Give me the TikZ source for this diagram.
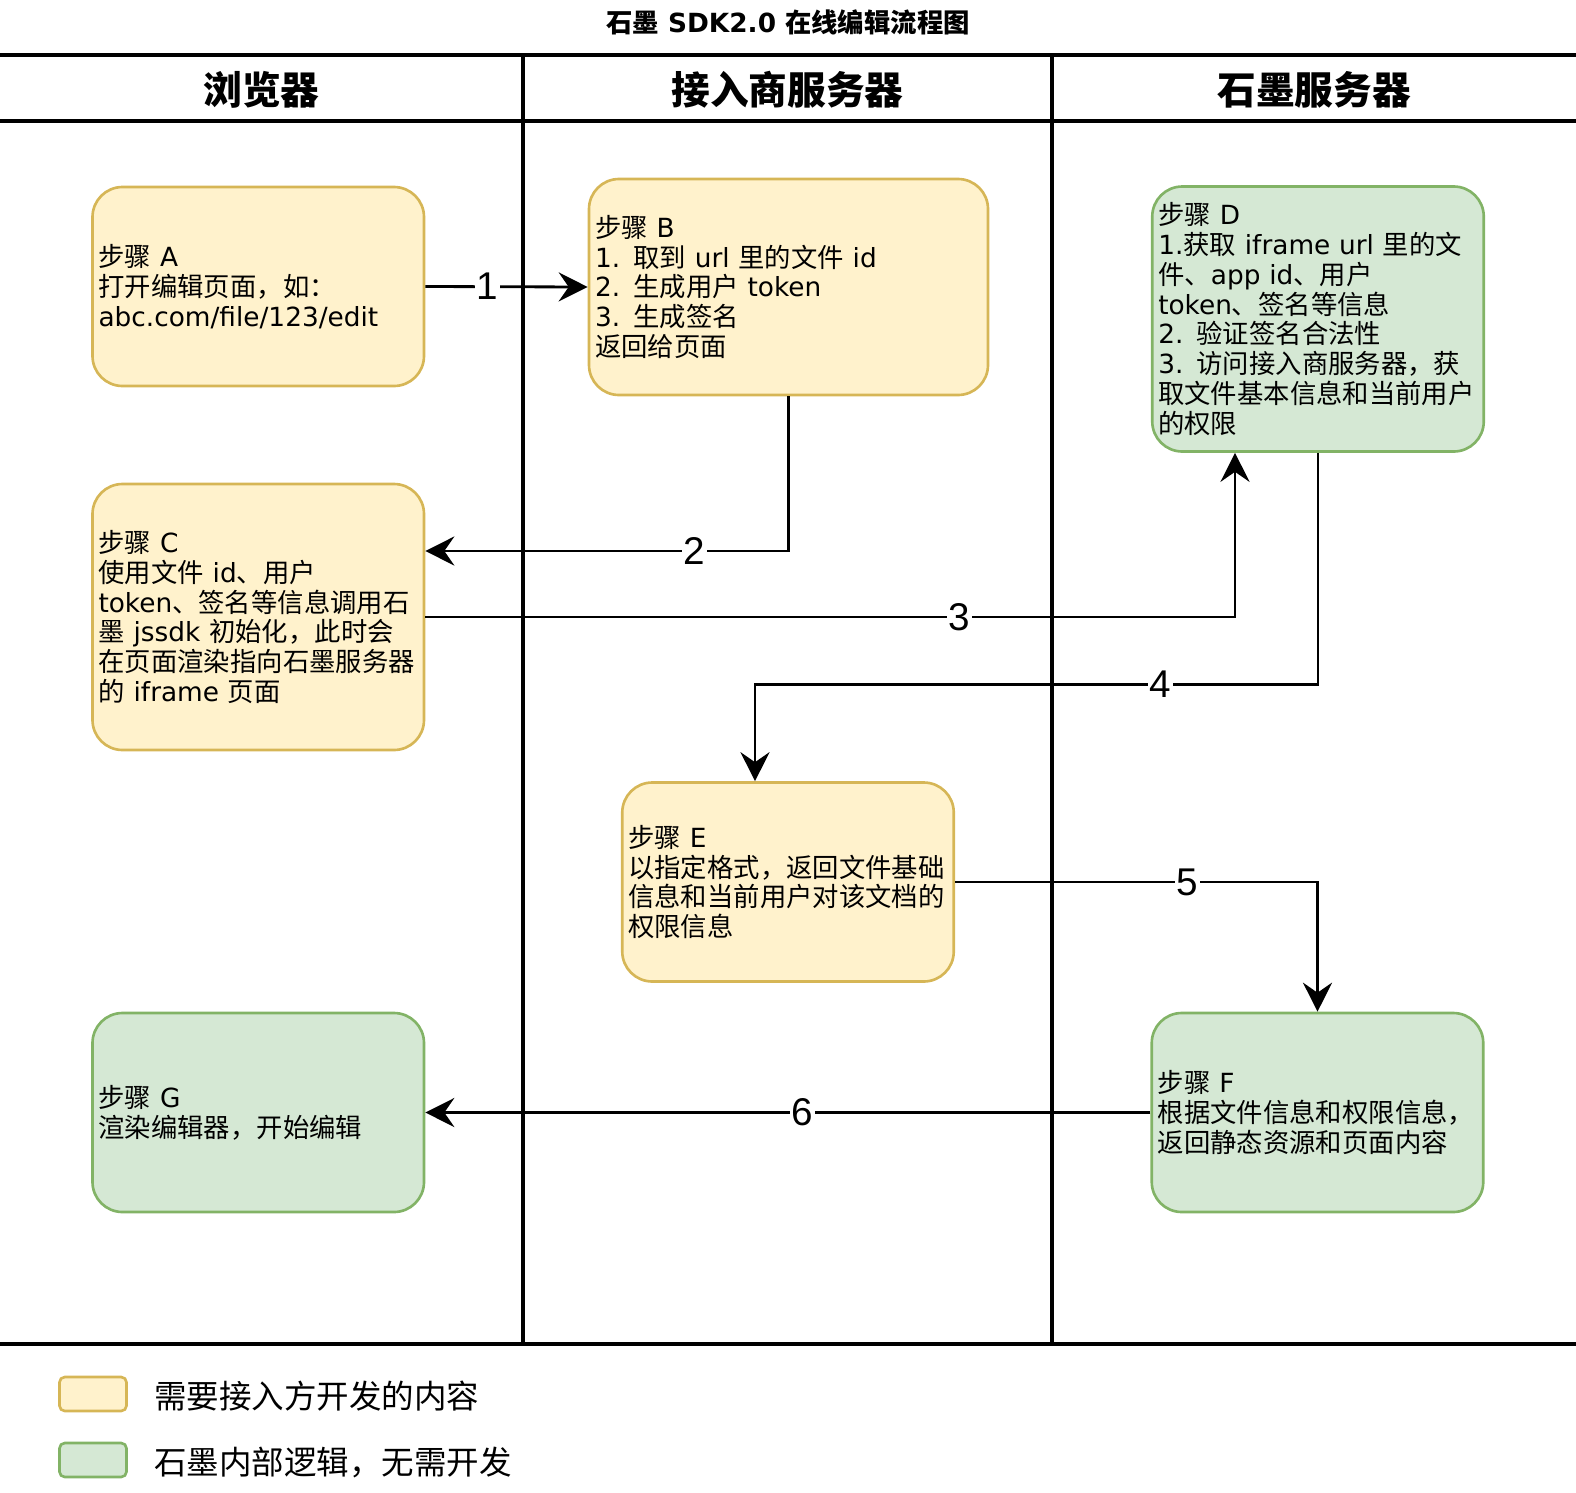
\documentclass[tikz,border=0pt]{standalone}
\usepackage{fontspec}
\setmainfont{DejaVu Sans}
\newfontfamily\cjkfont{Noto Sans CJK SC}
\newfontfamily\helvfont{Liberation Sans}
\usetikzlibrary{arrows.meta}
\usepackage{xcolor}

% switch to the CJK font for Chinese characters
\XeTeXinterchartokenstate=1
\newXeTeXintercharclass\cjkclass
\newcount\cjkcode
\def\setcjkrange#1#2{%
  \cjkcode=#1\relax
  \loop\XeTeXcharclass\cjkcode=\cjkclass
  \ifnum\cjkcode<#2\relax\advance\cjkcode by 1 \repeat}
\setcjkrange{"3000}{"303F}
\setcjkrange{"4E00}{"9FFF}
\setcjkrange{"FF00}{"FFEF}
\def\latinfam{\rmfamily}
\XeTeXinterchartoks 0 \cjkclass={\cjkfont}
\XeTeXinterchartoks 4095 \cjkclass={\cjkfont}
\XeTeXinterchartoks \cjkclass 0={\latinfam}
\XeTeXinterchartoks \cjkclass 4095={\latinfam}

\definecolor{devfill}{HTML}{FFF2CC}
\definecolor{devline}{HTML}{D6B656}
\definecolor{smfill}{HTML}{D5E8D4}
\definecolor{smline}{HTML}{82B366}

\begin{document}
\begin{tikzpicture}[
  % Node Styles
  stepbox/.style={rectangle, rounded corners=0.6cm, line width=1.5pt, align=left, inner xsep=0.12cm, minimum width=6.63cm, text width=6.39cm, minimum height=3.98cm, font=\fontsize{15pt}{17pt}\selectfont},
  devbox/.style={stepbox, draw=devline, fill=devfill},
  smbox/.style={stepbox, draw=smline, fill=smfill},
  lanehead/.style={font=\fontsize{22pt}{26pt}\selectfont\bfseries},
  legendbox/.style={rectangle, rounded corners=3pt, line width=1.5pt, minimum width=1.34cm, minimum height=0.68cm},
  legendtext/.style={anchor=west, inner sep=0pt, font=\fontsize{18.5pt}{22pt}\selectfont},
  laneline/.style={line width=1.9pt},
  % Arrow Styles
  flow/.style={-{Stealth[length=0.58cm, width=0.58cm, inset=0.2cm]}, line width=1.6pt},
  numlabel/.style={fill=white, inner sep=1pt, font=\fontsize{22pt}{24pt}\selectfont\helvfont}
]
\useasboundingbox (0,0) rectangle (31.52,-29.84);

% Title and lanes
\node[font=\fontsize{15pt}{18pt}\selectfont\bfseries] (title) at (15.76,-0.44) {石墨 SDK2.0 在线编辑流程图};

\draw[line width=2.2pt] (0,-1.10) -- (31.52,-1.10);
\draw[laneline] (0,-2.42) -- (31.52,-2.42);
\draw[laneline] (0,-26.88) -- (31.52,-26.88);
\draw[laneline] (10.46,-1.10) -- (10.46,-26.88);
\draw[laneline] (21.04,-1.10) -- (21.04,-26.88);

\node[lanehead] (lane1) at (5.23,-1.79) {浏览器};
\node[lanehead] (lane2) at (15.75,-1.79) {接入商服务器};
\node[lanehead] (lane3) at (26.28,-1.79) {石墨服务器};

% Steps
\node[devbox] (A) at (5.165,-5.73) {步骤 A\\打开编辑页面，如：\\abc.com/file/123/edit};
\node[devbox, minimum width=7.98cm, text width=7.74cm, minimum height=4.32cm] (B) at (15.77,-5.74) {步骤 B\\1. 取到 url 里的文件 id\\2. 生成用户 token\\3. 生成签名\\返回给页面};
\node[devbox, minimum height=5.32cm] (C) at (5.165,-12.34) {步骤 C\\使用文件 id、用户\\token、签名等信息调用石\\墨 jssdk 初始化，此时会\\在页面渲染指向石墨服务器\\的 iframe 页面};
\node[smbox, minimum height=5.3cm] (D) at (26.36,-6.38) {步骤 D\\1.获取 iframe url 里的文\\件、app id、用户\\token、签名等信息\\2. 验证签名合法性\\3. 访问接入商服务器，获\\取文件基本信息和当前用户\\的权限};
\node[devbox] (E) at (15.76,-17.64) {步骤 E\\以指定格式，返回文件基础\\信息和当前用户对该文档的\\权限信息};
\node[smbox] (F) at (26.35,-22.25) {步骤 F\\根据文件信息和权限信息，\\返回静态资源和页面内容};
\node[smbox] (G) at (5.165,-22.25) {步骤 G\\渲染编辑器，开始编辑};

% Flow
\draw[flow] (A.east) -- node[numlabel, pos=0.38] (n1) {1} (B.west);
\draw[flow] (B.south) |- node[numlabel, pos=0.63] (n2) {2} ([yshift=1.32cm]C.east);
\draw[flow] (C.east) -| node[numlabel, pos=0.33] (n3) {3} ([xshift=-1.66cm]D.south);
\draw[flow] (D.south) -- ++(0,-4.63) -| node[numlabel, pos=0.14] (n4) {4} ([xshift=-0.66cm]E.north);
\draw[flow] (E.east) -| node[numlabel, pos=0.32] (n5) {5} (F.north);
\draw[flow] (F.west) -- node[numlabel, pos=0.48] (n6) {6} (G.east);

% Legend
\node[legendbox, draw=devline, fill=devfill] (key1) at (1.86,-27.88) {};
\node[legendtext] (key1text) at (3.08,-27.92) {需要接入方开发的内容};
\node[legendbox, draw=smline, fill=smfill] (key2) at (1.86,-29.20) {};
\node[legendtext] (key2text) at (3.08,-29.24) {石墨内部逻辑，无需开发};

\end{tikzpicture}
\end{document}
